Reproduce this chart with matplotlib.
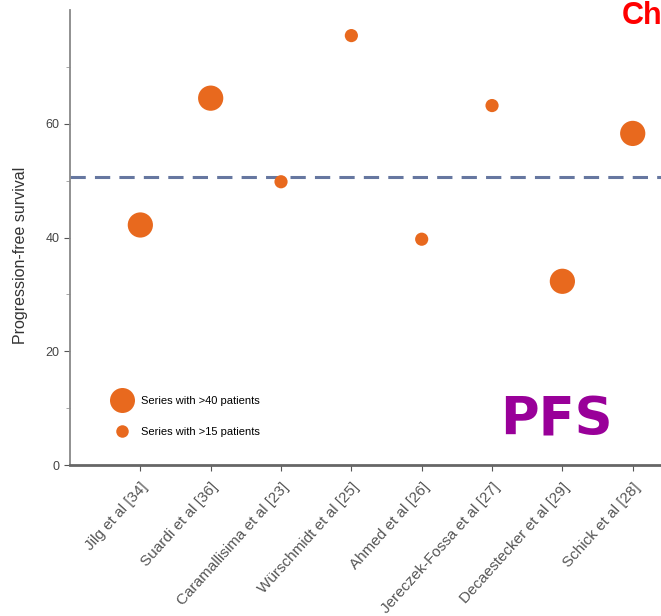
import matplotlib.pyplot as plt
from matplotlib.lines import Line2D

plt.rcParams["font.family"] = ["Liberation Sans", "DejaVu Sans"]

studies = ["Jilg et al [34]", "Suardi et al [36]", "Caramallisima et al [23]",
           "Würschmidt et al [25]", "Ahmed et al [26]", "Jereczek-Fossa et al [27]",
           "Decaestecker et al [29]", "Schick et al [28]"]
pfs = [42.2, 64.5, 49.8, 75.5, 39.7, 63.2, 32.3, 58.3]
large_series = [True, True, False, False, False, False, True, True]
mean_pfs = 50.7

ORANGE = "#e8691e"
GREY = "#555555"

fig = plt.figure(figsize=(6.61, 6.16), dpi=100)
ax = fig.add_axes([70 / 661, 1 - 465 / 616, 1.02 - 70 / 661, 455 / 616])

x = list(range(1, len(studies) + 1))
sizes = [330 if big else 90 for big in large_series]
ax.scatter(x, pfs, s=sizes, color=ORANGE, edgecolors="none", zorder=3)
ax.axhline(mean_pfs, color="#6677a0", ls=(0, (5, 3)), lw=2.2, zorder=2)

ax.set_xlim(0, 8.59)
ax.set_ylim(0, 80)
ax.set_yticks([0, 20, 40, 60])
ax.set_yticks([10, 30, 50, 70], minor=True)
ax.set_xticks(x)
ax.set_xticklabels(studies, rotation=48, ha="right", rotation_mode="anchor",
                   fontsize=11, color="#444444")
ax.tick_params(axis="y", labelsize=9, colors=GREY, length=4)
ax.tick_params(axis="y", which="minor", length=3, colors="#999999")
ax.tick_params(axis="x", length=4, colors=GREY, pad=7)
for lab in ax.get_yticklabels():
    lab.set_color("#444444")
ax.set_ylabel("Progression-free survival", fontsize=11.5, color="#333333")
ax.yaxis.set_label_coords(-0.07, 0.46)

for side in ("top", "right"):
    ax.spines[side].set_visible(False)
ax.spines["left"].set_color("#888888")
ax.spines["left"].set_linewidth(1.3)
ax.spines["bottom"].set_color("#666666")
ax.spines["bottom"].set_linewidth(2)

handles = [
    Line2D([], [], ls="none", marker="o", ms=18, color=ORANGE, mec="none",
           label="Series with >40 patients"),
    Line2D([], [], ls="none", marker="o", ms=9, color=ORANGE, mec="none",
           label="Series with >15 patients"),
]
ax.legend(handles=handles, loc="lower left", bbox_to_anchor=(0.055, 0.045),
          frameon=False, fontsize=8, labelspacing=1.9, handletextpad=0.7,
          borderpad=0.2)

fig.text(556 / 661, 1 - 420 / 616, "PFS", color="#990099", fontsize=38,
         fontweight="bold", ha="center", va="center",
         family=["DejaVu Sans"])
fig.text(622 / 661, 1 - 16 / 616, "Ch", color="#ff0000", fontsize=22,
         fontweight="bold", ha="left", va="center")

fig.savefig("out.png", dpi=100)
